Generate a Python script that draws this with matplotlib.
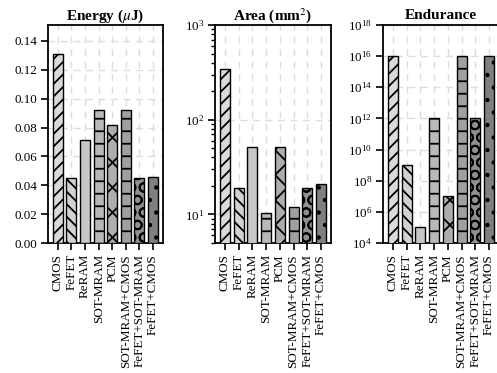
import numpy as np
import matplotlib
matplotlib.use("Agg")
import matplotlib.pyplot as plt
from matplotlib.ticker import LogLocator

DPI = 75
S = 100 / DPI  # sizes below are written for 100 dpi, scaled to the save dpi

plt.rcParams['font.family'] = ['Liberation Serif', 'DejaVu Serif']
plt.rcParams['mathtext.fontset'] = 'stix'
plt.rcParams['hatch.linewidth'] = 1.3 * S

techs = ['CMOS', 'FeFET', 'ReRAM', 'SOT-MRAM', 'PCM',
         'SOT-MRAM+CMOS', 'FeFET+SOT-MRAM', 'FeFET+CMOS']
energy = [0.131, 0.045, 0.071, 0.092, 0.082, 0.092, 0.045, 0.046]
area = [340, 19, 52, 10.3, 52, 12, 19, 21]
endurance = [1e16, 1e9, 1e5, 1e12, 1e7, 1e16, 1e12, 1e16]

hatches = ['//', '\\\\', '', '-', 'x', '-', 'O', '.']
colors = ['#dadada', '#d2d2d2', '#c6c6c6', '#b9b9b9', '#adadad',
          '#a0a0a0', '#909090', '#808080']

fig = plt.figure(figsize=(497 / DPI, 373 / DPI), dpi=DPI)
ax1 = fig.add_axes([48/497, 130/373, 115/497, 218/373])
ax2 = fig.add_axes([215/497, 130/373, 116/497, 218/373])
ax3 = fig.add_axes([383/497, 130/373, 116/497, 218/373])

x = np.arange(len(techs))

def draw(ax, vals, title):
    for i, v in enumerate(vals):
        ax.bar(x[i], v, width=0.73, color=colors[i], edgecolor='black',
               hatch=hatches[i], linewidth=1.0 * S, zorder=3)
    ax.set_title(title, fontweight='bold', fontsize=11 * S, pad=4 * S)
    ax.set_xticks(x)
    ax.set_xticklabels(techs, rotation=90, fontsize=9.6 * S)
    ax.set_xlim(-0.72, 7.73)
    ax.grid(True, linestyle=(0, (5, 4)), color='#dddddd', linewidth=1.0 * S, zorder=0)
    ax.set_axisbelow(True)
    for s in ax.spines.values():
        s.set_linewidth(1.3 * S)
    ax.tick_params(width=1.2 * S, length=5 * S, labelsize=9.4 * S, pad=3 * S)

draw(ax1, energy, r'Energy ($\mu$J)')
ax1.set_ylim(0, 0.151)
ax1.set_yticks(np.arange(0, 0.141, 0.02))
ax1.set_yticklabels(['%.2f' % t for t in np.arange(0, 0.141, 0.02)])

draw(ax2, area, r'Area (mm$^2$)')
ax2.set_yscale('log')
ax2.set_ylim(5, 1000)
ax2.yaxis.set_minor_locator(LogLocator(base=10, subs=np.arange(2, 10)))
ax2.tick_params(which='minor', length=3 * S, width=1.0 * S)

draw(ax3, endurance, 'Endurance')
ax3.set_yscale('log')
ax3.set_ylim(1e4, 1e18)
ax3.set_yticks([10.0**k for k in range(4, 19, 2)])
ax3.yaxis.set_minor_locator(plt.NullLocator())

fig.savefig('out.png', dpi=DPI)
